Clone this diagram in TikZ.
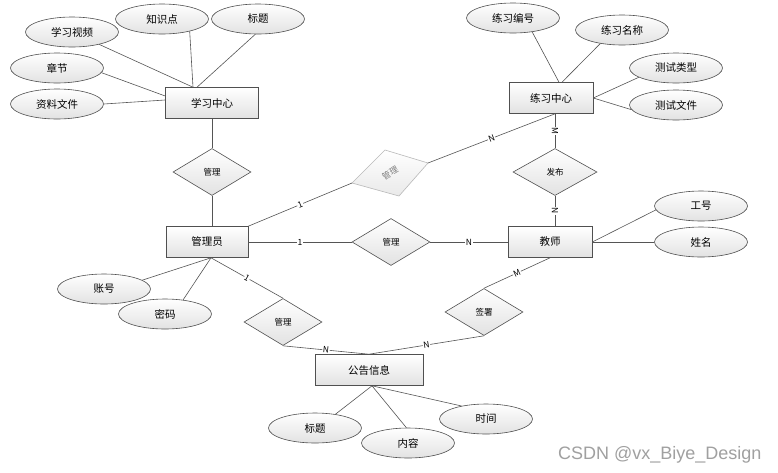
\documentclass[tikz,border=0pt]{standalone}
\usepackage{fontspec}
\setmainfont{Noto Sans CJK SC}
\newfontfamily\wmfont{Liberation Sans}
\usetikzlibrary{shapes.geometric,calc}
\definecolor{ln}{HTML}{555555}
\definecolor{bd}{HTML}{505050}
\definecolor{fillb}{HTML}{E2E2E2}
\definecolor{wm}{HTML}{A0A0A0}
\begin{document}
\begin{tikzpicture}[x=1pt,y=-1pt,
  ent/.style={rectangle, draw=bd, line width=0.6pt, top color=white, bottom color=fillb, minimum height=31pt, inner sep=0pt, font=\fontsize{10.5}{12}\selectfont},
  attr/.style={ellipse, draw=bd, line width=0.6pt, top color=white, bottom color=fillb, minimum width=93pt, minimum height=30pt, inner sep=0pt, font=\fontsize{10.5}{12}\selectfont},
  rel/.style={diamond, draw=bd, line width=0.6pt, top color=white, bottom color=fillb, minimum width=78pt, minimum height=47pt, inner sep=0pt, font=\fontsize{8.5}{10}\selectfont},
  lk/.style={draw=ln, line width=0.6pt},
  lab/.style={font=\fontsize{8.5}{10}\selectfont, fill=white, inner sep=0.6pt}]
\useasboundingbox (0,0) rectangle (778,472);
\fill[white] (0,0) rectangle (778,472);

% entities
\node[ent, minimum width=93pt] (xxzx) at (212,103) {学习中心};
\node[ent, minimum width=84pt] (lxzx) at (551,98) {练习中心};
\node[ent, minimum width=82pt] (gly) at (207,242) {管理员};
\node[ent, minimum width=84pt] (js) at (550,242) {教师};
\node[ent, minimum width=108pt] (ggxx) at (369,370) {公告信息};

% attributes
\node[attr] (a1) at (72,32) {学习视频};
\node[attr] (a2) at (162,19) {知识点};
\node[attr] (a3) at (258,19) {标题};
\node[attr] (a4) at (57,68) {章节};
\node[attr] (a5) at (57,104) {资料文件};
\node[attr] (b1) at (513,18) {练习编号};
\node[attr] (b2) at (622,30) {练习名称};
\node[attr] (b3) at (676,68) {测试类型};
\node[attr] (b4) at (676,105) {测试文件};
\node[attr] (c1) at (701,206) {工号};
\node[attr] (c2) at (701,242) {姓名};
\node[attr] (d1) at (104,289) {账号};
\node[attr] (d2) at (165,314) {密码};
\node[attr] (e1) at (315,428) {标题};
\node[attr] (e2) at (408,443) {内容};
\node[attr] (e3) at (486,419) {时间};

% relationships
\node[rel] (r1) at (212,172) {管理};
\node[rel, minimum width=84pt] (r2) at (555,172) {发布};
\node[rel] (r3) at (391,242) {管理};
\node[rel] (r4) at (283,322) {管理};
\node[rel] (r5) at (484,312) {签署};

% skewed light diamond
\coordinate (r6l) at (352,183);
\coordinate (r6t) at (385,150);
\coordinate (r6r) at (428,163);
\coordinate (r6b) at (399,196);
\draw[draw=gray!55, line width=0.6pt, top color=white, bottom color=fillb!75] (r6l) -- (r6t) -- (r6r) -- (r6b) -- cycle;
\node[rotate=30, text=gray, font=\fontsize{8.5}{10}\selectfont] (r6) at (390,173) {管理};

% attribute links
\coordinate (p1) at ($(xxzx.north)+(-19,0)$);
\coordinate (p2) at ($(xxzx.north)+(-15,0)$);
\draw[lk] (a1) -- (p1);
\draw[lk] (a2.-24) -- (p1);
\draw[lk] (a3.-100) -- (p2);
\draw[lk] (a4.-6) -- ($(xxzx.west)+(0,-7)$);
\draw[lk] (a5.east) -- ($(xxzx.west)+(0,-3)$);

\draw[lk] (b1.-36) -- ($(lxzx.north)+(8,0)$);
\draw[lk] (b2.-148) -- ($(lxzx.north)+(11,0)$);
\draw[lk] (b3.194) -- (lxzx.east);
\draw[lk] (b4.186) -- (lxzx.east);

\draw[lk] (c1.185) -- (js.east);
\draw[lk] (c2.west) -- (js.east);

\coordinate (g1) at ($(gly.south)+(4,0)$);
\draw[lk] (d1.13) -- (g1);
\draw[lk] (d2.38) -- (g1);

\coordinate (k1) at ($(ggxx.south)+(3,0)$);
\draw[lk] (e1.34) -- (k1);
\draw[lk] (e2.96) -- (k1);
\draw[lk] (e3.152) -- (k1);

% relationship links
\draw[lk] (xxzx.south) -- (r1.north);
\draw[lk] (r1.south) -- (r1.south |- gly.north);

\draw[lk] (gly.north east) -- node[lab, sloped] {1} (r6l);
\coordinate (l1) at (r2.north |- lxzx.south);
\draw[lk] (r6r) -- node[lab, sloped] {N} (l1);
\draw[lk] (l1) -- node[lab, sloped] {M} (r2.north);
\draw[lk] (r2.south) -- node[lab, sloped] {N} (r2.south |- js.north);

\draw[lk] (gly.east) -- node[lab] {1} (r3.west);
\draw[lk] (r3.east) -- node[lab] {N} (js.west);

\draw[lk] (g1) -- node[lab, sloped] {1} (r4.north);
\draw[lk] (r4.south) -- node[lab, sloped] {N} (ggxx.north);
\draw[lk] (js.south) -- node[lab, sloped] {M} (r5.north);
\draw[lk] (r5.south) -- node[lab, sloped] {N} (ggxx.north);

% watermark
\node[anchor=base west, inner sep=0pt, text=wm, font=\wmfont\fontsize{18}{20}\selectfont] (wm) at (558,459) {CSDN @vx\_Biye\_Design};
\end{tikzpicture}
\end{document}
